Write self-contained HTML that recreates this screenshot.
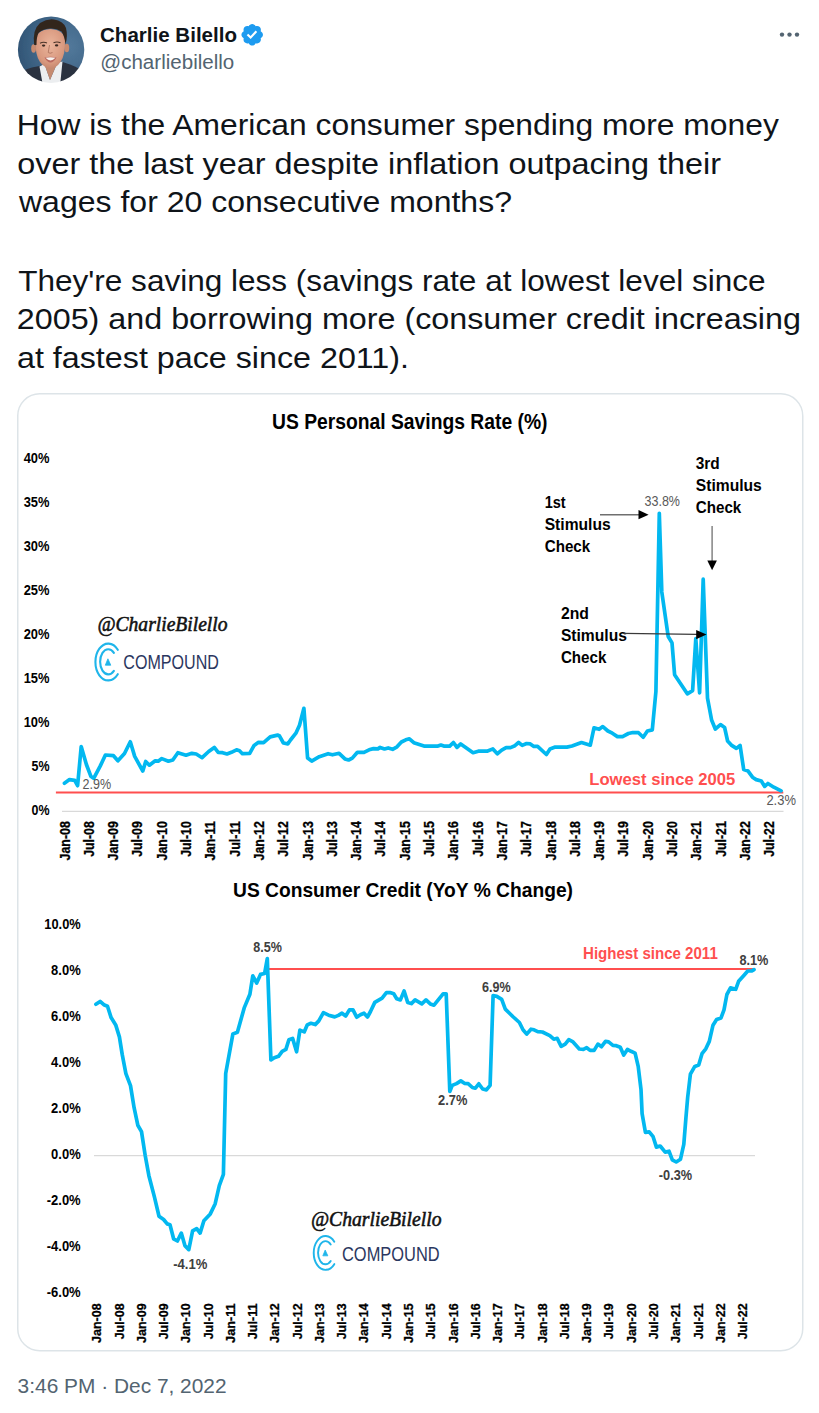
<!DOCTYPE html><html><head><meta charset="utf-8"><style>
html,body{margin:0;padding:0;background:#fff;}
body{width:819px;height:1413px;overflow:hidden;position:relative;font-family:"Liberation Sans",sans-serif;}
svg{position:absolute;left:0;top:0;}
</style></head><body>
<svg width="819" height="1413" viewBox="0 0 819 1413" font-family="Liberation Sans, sans-serif">
<defs>
<clipPath id="av"><circle cx="51.1" cy="49.7" r="33.2"/></clipPath><filter id="bl" x="-5%" y="-5%" width="110%" height="110%"><feGaussianBlur stdDeviation="0.45"/></filter>
<radialGradient id="avbg" cx="0.75" cy="0.45" r="0.8"><stop offset="0" stop-color="#53799b"/><stop offset="0.6" stop-color="#3f6587"/><stop offset="1" stop-color="#2f5272"/></radialGradient>
<radialGradient id="skin" cx="0.5" cy="0.4" r="0.65"><stop offset="0" stop-color="#eab59c"/><stop offset="0.7" stop-color="#d9997f"/><stop offset="1" stop-color="#c0826a"/></radialGradient>
</defs>
<g clip-path="url(#av)"><g filter="url(#bl)">
<rect x="17" y="16" width="68" height="68" fill="url(#avbg)"/>
<path d="M14 86 L16 76 Q22 70 32 67.5 L42 65.5 L47 86 Z" fill="#2a3140"/>
<path d="M88 86 L86 74 Q80 68 70 64.5 L61 61.5 L56 86 Z" fill="#2a3140"/>
<path d="M39.5 66.5 L44.5 64 L50 80 L57.5 62.5 L62.5 61.5 L60 86 L43 86 Z" fill="#eceef0"/>
<path d="M43 58 L44.5 64.5 L50 80 L57.5 62.5 L59 56 Z" fill="#c58a70"/>
<ellipse cx="33.6" cy="48.5" rx="2.4" ry="4.2" fill="#c98b70"/>
<ellipse cx="66.8" cy="48" rx="2.4" ry="4.2" fill="#c98b70"/>
<path d="M35.5 40 Q35 55 40 62 Q45 68.5 50.5 68.5 Q56 68.5 60.5 62 Q65.5 55 65 40 Q64 30 50.5 29 Q36.5 30 35.5 40 Z" fill="url(#skin)"/>
<path d="M34.2 45 Q32 30 40 23 Q47 18.5 54 19.5 Q63 20.5 66 28 Q68 36 65.5 44 Q64.5 36 61.5 31.5 Q56 28 50 28.5 Q42 29 38.5 33 Q36.5 37 36.5 45 Z" fill="#33261f"/>
<path d="M40 43.2 Q43.5 41.5 47 43" stroke="#4a3428" stroke-width="1.1" fill="none"/>
<path d="M53.5 42.8 Q57 41.2 60.5 42.8" stroke="#4a3428" stroke-width="1.1" fill="none"/>
<ellipse cx="43.6" cy="45.6" rx="1.7" ry="1.1" fill="#3b2a24"/>
<ellipse cx="56.6" cy="45.4" rx="1.7" ry="1.1" fill="#3b2a24"/>
<path d="M49.5 45 Q48.5 51 48.2 52.5 Q50 54 52.5 52.5" stroke="#b07560" stroke-width="0.9" fill="none"/>
<path d="M44.5 57.5 Q50.5 55.8 56.5 57.5 Q53.5 62.6 50.5 62.6 Q47.5 62.6 44.5 57.5 Z" fill="#b9685e"/>
<path d="M45.5 57.8 Q50.5 56.6 55.5 57.8 Q53 60.4 50.5 60.4 Q48 60.4 45.5 57.8 Z" fill="#f7f2ee"/>
</g></g>
<text x="100" y="41.8" font-size="19.5" font-weight="bold" fill="#0f1419" textLength="137" lengthAdjust="spacingAndGlyphs">Charlie Bilello</text>
<g transform="translate(239.6,22.1) scale(1.05)"><path fill="#1d9bf0" d="M22.25 12c0-1.43-.88-2.67-2.19-3.34.46-1.39.2-2.9-.81-3.91s-2.52-1.27-3.91-.81c-.66-1.31-1.91-2.19-3.34-2.19s-2.67.88-3.33 2.19c-1.4-.46-2.91-.2-3.92.81s-1.26 2.52-.8 3.91c-1.31.67-2.2 1.91-2.2 3.34s.89 2.67 2.2 3.34c-.46 1.39-.21 2.9.8 3.91s2.52 1.26 3.91.81c.67 1.31 1.91 2.19 3.34 2.19s2.68-.88 3.34-2.19c1.39.45 2.9.2 3.91-.81s1.27-2.52.81-3.91c1.31-.67 2.19-1.91 2.19-3.34zm-11.71 4.2L6.8 12.46l1.41-1.42 2.26 2.26 4.8-5.23 1.47 1.36-6.2 6.77z"/></g>
<text x="100.3" y="69" font-size="20" fill="#536471" textLength="134" lengthAdjust="spacingAndGlyphs">@charliebilello</text>
<circle cx="782.0" cy="34.6" r="2.2" fill="#536471"/>
<circle cx="789.5" cy="34.6" r="2.2" fill="#536471"/>
<circle cx="797.0" cy="34.6" r="2.2" fill="#536471"/>
<text x="16.8" y="134.8" font-size="29.5" fill="#0f1419" textLength="762" lengthAdjust="spacingAndGlyphs">How is the American consumer spending more money</text>
<text x="17.2" y="173.6" font-size="29.5" fill="#0f1419" textLength="703.8" lengthAdjust="spacingAndGlyphs">over the last year despite inflation outpacing their</text>
<text x="19" y="212.4" font-size="29.5" fill="#0f1419" textLength="493" lengthAdjust="spacingAndGlyphs">wages for 20 consecutive months?</text>
<text x="18.2" y="290.6" font-size="29.5" fill="#0f1419" textLength="747.4" lengthAdjust="spacingAndGlyphs">They're saving less (savings rate at lowest level since</text>
<text x="16.8" y="329.2" font-size="29.5" fill="#0f1419" textLength="784.1" lengthAdjust="spacingAndGlyphs">2005) and borrowing more (consumer credit increasing</text>
<text x="17" y="368" font-size="29.5" fill="#0f1419" textLength="392" lengthAdjust="spacingAndGlyphs">at fastest pace since 2011).</text>
<rect x="17.75" y="393.75" width="785" height="957" rx="22" ry="22" fill="#fff" stroke="#dde4e8" stroke-width="1.5"/>
<text x="272" y="429.4" font-size="21.5" font-weight="bold" fill="#000" textLength="275.5" lengthAdjust="spacingAndGlyphs">US Personal Savings Rate (%)</text>
<text x="49.5" y="463.3" font-size="14.5" font-weight="bold" fill="#000" text-anchor="end" textLength="25.8" lengthAdjust="spacingAndGlyphs">40%</text>
<text x="49.5" y="507.2" font-size="14.5" font-weight="bold" fill="#000" text-anchor="end" textLength="25.8" lengthAdjust="spacingAndGlyphs">35%</text>
<text x="49.5" y="551.1" font-size="14.5" font-weight="bold" fill="#000" text-anchor="end" textLength="25.8" lengthAdjust="spacingAndGlyphs">30%</text>
<text x="49.5" y="595.0" font-size="14.5" font-weight="bold" fill="#000" text-anchor="end" textLength="25.8" lengthAdjust="spacingAndGlyphs">25%</text>
<text x="49.5" y="638.9" font-size="14.5" font-weight="bold" fill="#000" text-anchor="end" textLength="25.8" lengthAdjust="spacingAndGlyphs">20%</text>
<text x="49.5" y="682.8" font-size="14.5" font-weight="bold" fill="#000" text-anchor="end" textLength="25.8" lengthAdjust="spacingAndGlyphs">15%</text>
<text x="49.5" y="726.7" font-size="14.5" font-weight="bold" fill="#000" text-anchor="end" textLength="25.8" lengthAdjust="spacingAndGlyphs">10%</text>
<text x="49.5" y="770.6" font-size="14.5" font-weight="bold" fill="#000" text-anchor="end" textLength="18" lengthAdjust="spacingAndGlyphs">5%</text>
<text x="49.5" y="814.5" font-size="14.5" font-weight="bold" fill="#000" text-anchor="end" textLength="18" lengthAdjust="spacingAndGlyphs">0%</text>
<line x1="62" y1="811.4" x2="783.5" y2="811.4" stroke="#d9d9d9" stroke-width="1.3"/>
<text transform="translate(69.5,821.2) rotate(-90)" font-size="14" font-weight="bold" fill="#000" stroke="#000" stroke-width="0.3" text-anchor="end" textLength="39.3" lengthAdjust="spacingAndGlyphs">Jan-08</text>
<text transform="translate(93.8,821.2) rotate(-90)" font-size="14" font-weight="bold" fill="#000" stroke="#000" stroke-width="0.3" text-anchor="end" textLength="35.6" lengthAdjust="spacingAndGlyphs">Jul-08</text>
<text transform="translate(118.1,821.2) rotate(-90)" font-size="14" font-weight="bold" fill="#000" stroke="#000" stroke-width="0.3" text-anchor="end" textLength="39.3" lengthAdjust="spacingAndGlyphs">Jan-09</text>
<text transform="translate(142.4,821.2) rotate(-90)" font-size="14" font-weight="bold" fill="#000" stroke="#000" stroke-width="0.3" text-anchor="end" textLength="35.6" lengthAdjust="spacingAndGlyphs">Jul-09</text>
<text transform="translate(166.7,821.2) rotate(-90)" font-size="14" font-weight="bold" fill="#000" stroke="#000" stroke-width="0.3" text-anchor="end" textLength="39.3" lengthAdjust="spacingAndGlyphs">Jan-10</text>
<text transform="translate(191.0,821.2) rotate(-90)" font-size="14" font-weight="bold" fill="#000" stroke="#000" stroke-width="0.3" text-anchor="end" textLength="35.6" lengthAdjust="spacingAndGlyphs">Jul-10</text>
<text transform="translate(215.3,821.2) rotate(-90)" font-size="14" font-weight="bold" fill="#000" stroke="#000" stroke-width="0.3" text-anchor="end" textLength="39.3" lengthAdjust="spacingAndGlyphs">Jan-11</text>
<text transform="translate(239.6,821.2) rotate(-90)" font-size="14" font-weight="bold" fill="#000" stroke="#000" stroke-width="0.3" text-anchor="end" textLength="35.6" lengthAdjust="spacingAndGlyphs">Jul-11</text>
<text transform="translate(263.9,821.2) rotate(-90)" font-size="14" font-weight="bold" fill="#000" stroke="#000" stroke-width="0.3" text-anchor="end" textLength="39.3" lengthAdjust="spacingAndGlyphs">Jan-12</text>
<text transform="translate(288.2,821.2) rotate(-90)" font-size="14" font-weight="bold" fill="#000" stroke="#000" stroke-width="0.3" text-anchor="end" textLength="35.6" lengthAdjust="spacingAndGlyphs">Jul-12</text>
<text transform="translate(312.5,821.2) rotate(-90)" font-size="14" font-weight="bold" fill="#000" stroke="#000" stroke-width="0.3" text-anchor="end" textLength="39.3" lengthAdjust="spacingAndGlyphs">Jan-13</text>
<text transform="translate(336.8,821.2) rotate(-90)" font-size="14" font-weight="bold" fill="#000" stroke="#000" stroke-width="0.3" text-anchor="end" textLength="35.6" lengthAdjust="spacingAndGlyphs">Jul-13</text>
<text transform="translate(361.1,821.2) rotate(-90)" font-size="14" font-weight="bold" fill="#000" stroke="#000" stroke-width="0.3" text-anchor="end" textLength="39.3" lengthAdjust="spacingAndGlyphs">Jan-14</text>
<text transform="translate(385.4,821.2) rotate(-90)" font-size="14" font-weight="bold" fill="#000" stroke="#000" stroke-width="0.3" text-anchor="end" textLength="35.6" lengthAdjust="spacingAndGlyphs">Jul-14</text>
<text transform="translate(409.7,821.2) rotate(-90)" font-size="14" font-weight="bold" fill="#000" stroke="#000" stroke-width="0.3" text-anchor="end" textLength="39.3" lengthAdjust="spacingAndGlyphs">Jan-15</text>
<text transform="translate(434.0,821.2) rotate(-90)" font-size="14" font-weight="bold" fill="#000" stroke="#000" stroke-width="0.3" text-anchor="end" textLength="35.6" lengthAdjust="spacingAndGlyphs">Jul-15</text>
<text transform="translate(458.3,821.2) rotate(-90)" font-size="14" font-weight="bold" fill="#000" stroke="#000" stroke-width="0.3" text-anchor="end" textLength="39.3" lengthAdjust="spacingAndGlyphs">Jan-16</text>
<text transform="translate(482.6,821.2) rotate(-90)" font-size="14" font-weight="bold" fill="#000" stroke="#000" stroke-width="0.3" text-anchor="end" textLength="35.6" lengthAdjust="spacingAndGlyphs">Jul-16</text>
<text transform="translate(506.9,821.2) rotate(-90)" font-size="14" font-weight="bold" fill="#000" stroke="#000" stroke-width="0.3" text-anchor="end" textLength="39.3" lengthAdjust="spacingAndGlyphs">Jan-17</text>
<text transform="translate(531.2,821.2) rotate(-90)" font-size="14" font-weight="bold" fill="#000" stroke="#000" stroke-width="0.3" text-anchor="end" textLength="35.6" lengthAdjust="spacingAndGlyphs">Jul-17</text>
<text transform="translate(555.5,821.2) rotate(-90)" font-size="14" font-weight="bold" fill="#000" stroke="#000" stroke-width="0.3" text-anchor="end" textLength="39.3" lengthAdjust="spacingAndGlyphs">Jan-18</text>
<text transform="translate(579.8,821.2) rotate(-90)" font-size="14" font-weight="bold" fill="#000" stroke="#000" stroke-width="0.3" text-anchor="end" textLength="35.6" lengthAdjust="spacingAndGlyphs">Jul-18</text>
<text transform="translate(604.1,821.2) rotate(-90)" font-size="14" font-weight="bold" fill="#000" stroke="#000" stroke-width="0.3" text-anchor="end" textLength="39.3" lengthAdjust="spacingAndGlyphs">Jan-19</text>
<text transform="translate(628.4,821.2) rotate(-90)" font-size="14" font-weight="bold" fill="#000" stroke="#000" stroke-width="0.3" text-anchor="end" textLength="35.6" lengthAdjust="spacingAndGlyphs">Jul-19</text>
<text transform="translate(652.7,821.2) rotate(-90)" font-size="14" font-weight="bold" fill="#000" stroke="#000" stroke-width="0.3" text-anchor="end" textLength="39.3" lengthAdjust="spacingAndGlyphs">Jan-20</text>
<text transform="translate(677.0,821.2) rotate(-90)" font-size="14" font-weight="bold" fill="#000" stroke="#000" stroke-width="0.3" text-anchor="end" textLength="35.6" lengthAdjust="spacingAndGlyphs">Jul-20</text>
<text transform="translate(701.3,821.2) rotate(-90)" font-size="14" font-weight="bold" fill="#000" stroke="#000" stroke-width="0.3" text-anchor="end" textLength="39.3" lengthAdjust="spacingAndGlyphs">Jan-21</text>
<text transform="translate(725.6,821.2) rotate(-90)" font-size="14" font-weight="bold" fill="#000" stroke="#000" stroke-width="0.3" text-anchor="end" textLength="35.6" lengthAdjust="spacingAndGlyphs">Jul-21</text>
<text transform="translate(749.9,821.2) rotate(-90)" font-size="14" font-weight="bold" fill="#000" stroke="#000" stroke-width="0.3" text-anchor="end" textLength="39.3" lengthAdjust="spacingAndGlyphs">Jan-22</text>
<text transform="translate(774.2,821.2) rotate(-90)" font-size="14" font-weight="bold" fill="#000" stroke="#000" stroke-width="0.3" text-anchor="end" textLength="35.6" lengthAdjust="spacingAndGlyphs">Jul-22</text>
<line x1="55.9" y1="792.4" x2="783.3" y2="792.4" stroke="#ff4f4f" stroke-width="2"/>
<polyline points="64.4,783.2 69.5,779.6 74.7,780.3 77.6,785.7 81.2,746.6 86.4,764.5 90.8,776.2 93.7,778.4 100.3,765.9 105.4,755.0 113.5,755.7 117.9,760.8 124.5,753.5 130.3,741.8 134.7,756.4 142.8,771.0 145.7,761.5 149.4,765.2 155.2,760.8 158.2,761.2 161.8,758.6 168.4,761.2 172.8,760.0 177.9,752.7 186.0,755.2 191.8,753.3 196.2,754.0 202.1,757.7 208.7,751.5 214.3,747.4 218.2,752.3 222.6,752.7 227.0,754.0 231.4,752.3 236.5,749.8 239.5,750.8 242.4,753.7 249.7,753.3 254.1,745.4 258.5,742.3 263.6,742.7 270.2,736.9 277.6,735.1 279.3,735.7 283.4,743.0 287.8,743.9 290.5,740.0 295.9,733.2 299.5,725.2 303.9,708.3 307.6,758.1 311.7,761.1 319.3,756.7 328.1,753.7 332.5,754.8 339.1,753.3 344.9,758.9 348.6,760.0 352.3,758.1 357.4,752.3 364.0,752.3 369.1,749.8 373.5,748.6 377.9,748.9 380.1,747.4 384.5,749.0 388.2,747.9 392.6,749.3 397.0,746.8 401.4,742.0 405.8,739.8 409.4,738.8 413.8,742.7 424.0,746.1 438.0,746.1 440.9,745.0 443.8,746.1 449.7,746.1 453.4,742.5 457.0,747.4 460.7,743.9 473.1,752.7 478.3,751.2 487.0,751.2 492.9,748.9 497.3,753.7 501.7,750.1 506.1,747.6 510.5,747.6 514.9,745.7 518.6,742.5 522.2,745.4 526.6,743.5 530.3,743.9 533.9,746.4 537.6,746.4 546.4,754.5 550.0,749.0 555.2,747.1 566.9,747.1 572.0,746.0 581.5,742.5 590.3,745.2 594.0,727.8 599.1,729.3 602.8,726.6 607.9,731.0 612.3,733.2 617.4,736.6 622.6,736.6 628.4,733.5 632.8,732.5 638.5,732.7 643.2,737.3 647.4,731.0 652.3,729.9 655.9,691.7 659.3,513.4 661.8,591.9 668.2,636.5 672.0,642.9 674.6,674.7 687.3,693.8 692.6,690.6 695.8,638.6 699.6,692.8 703.2,579.2 707.5,698.1 711.6,720.0 715.3,729.0 720.5,724.6 724.6,727.5 727.6,741.0 731.3,745.1 736.4,748.4 740.1,745.4 743.7,769.6 748.1,771.1 752.5,777.2 756.2,779.6 761.3,781.0 764.7,786.4 767.9,783.5 773.8,787.2 781.1,790.8" fill="none" stroke="#02b8f0" stroke-width="3.7" stroke-linejoin="round" stroke-linecap="round"/>
<text x="589.3" y="784.7" font-size="16" font-weight="bold" fill="#ff4f4f" textLength="146" lengthAdjust="spacingAndGlyphs">Lowest since 2005</text>
<text x="766.4" y="805.2" font-size="13.8" fill="#595959" textLength="29.5" lengthAdjust="spacingAndGlyphs">2.3%</text>
<text x="82.6" y="788.6" font-size="13.8" fill="#595959" textLength="28.6" lengthAdjust="spacingAndGlyphs">2.9%</text>
<text x="644.5" y="505.6" font-size="13.8" fill="#595959" textLength="35.5" lengthAdjust="spacingAndGlyphs">33.8%</text>
<text x="544.7" y="508.2" font-size="16" font-weight="bold" fill="#000" textLength="21" lengthAdjust="spacingAndGlyphs">1st</text><text x="544.7" y="530.2" font-size="16" font-weight="bold" fill="#000" textLength="66" lengthAdjust="spacingAndGlyphs">Stimulus</text><text x="544.7" y="552.2" font-size="16" font-weight="bold" fill="#000" textLength="45.5" lengthAdjust="spacingAndGlyphs">Check</text>
<text x="695.8" y="469.3" font-size="16" font-weight="bold" fill="#000" textLength="24" lengthAdjust="spacingAndGlyphs">3rd</text><text x="695.8" y="491.3" font-size="16" font-weight="bold" fill="#000" textLength="66" lengthAdjust="spacingAndGlyphs">Stimulus</text><text x="695.8" y="513.3" font-size="16" font-weight="bold" fill="#000" textLength="45.5" lengthAdjust="spacingAndGlyphs">Check</text>
<text x="560.9" y="619.4" font-size="16" font-weight="bold" fill="#000" textLength="28" lengthAdjust="spacingAndGlyphs">2nd</text><text x="560.9" y="641.4" font-size="16" font-weight="bold" fill="#000" textLength="66" lengthAdjust="spacingAndGlyphs">Stimulus</text><text x="560.9" y="663.4" font-size="16" font-weight="bold" fill="#000" textLength="45.5" lengthAdjust="spacingAndGlyphs">Check</text>
<line x1="600" y1="514.7" x2="640" y2="514.7" stroke="#6f6f6f" stroke-width="1.4"/><path d="M638.5 510.1 L648.6 514.7 L638.5 519.3 Z" fill="#000"/>
<line x1="712.1" y1="525.9" x2="712.1" y2="562" stroke="#7a7a7a" stroke-width="1.4"/><path d="M707.3 560.6 L712.1 570.2 L716.9 560.6 Z" fill="#000"/>
<line x1="623.5" y1="633.3" x2="697" y2="634.4" stroke="#3a3a3a" stroke-width="1.3"/><path d="M696.2 629.9 L706.5 634.6 L696.2 639.2 Z" fill="#000"/>
<text x="97.5" y="630.6" font-family="Liberation Serif, serif" font-size="20.5" font-style="italic" fill="#111" stroke="#111" stroke-width="0.55" textLength="130" lengthAdjust="spacingAndGlyphs">@CharlieBilello</text>
<g transform="translate(107.9,662.2) scale(1.0)"><path d="M9.9 -12.4 A12.8 18.4 0 1 0 9.9 12.0" fill="none" stroke="#1fb5ea" stroke-width="2.1" stroke-linecap="round"/><path d="M6.0 -9.4 A8.1 12.6 0 1 0 6.0 8.6" fill="none" stroke="#1fb5ea" stroke-width="2.1" stroke-linecap="round"/><path d="M0 -3.4 L2.9 3 L-2.6 3 Z" fill="#1fb5ea" stroke="#1fb5ea" stroke-width="0.8" stroke-linejoin="round"/></g>
<text x="123.3" y="669.2" font-size="21" fill="#2b3760" textLength="95.6" lengthAdjust="spacingAndGlyphs">COMPOUND</text>
<text x="233" y="897" font-size="21" font-weight="bold" fill="#000" textLength="340" lengthAdjust="spacingAndGlyphs">US Consumer Credit (YoY % Change)</text>
<text x="80.7" y="928.5" font-size="15" font-weight="bold" fill="#000" text-anchor="end" textLength="36.4" lengthAdjust="spacingAndGlyphs">10.0%</text>
<text x="80.7" y="974.6" font-size="15" font-weight="bold" fill="#000" text-anchor="end" textLength="29.6" lengthAdjust="spacingAndGlyphs">8.0%</text>
<text x="80.7" y="1020.7" font-size="15" font-weight="bold" fill="#000" text-anchor="end" textLength="29.6" lengthAdjust="spacingAndGlyphs">6.0%</text>
<text x="80.7" y="1066.8" font-size="15" font-weight="bold" fill="#000" text-anchor="end" textLength="29.6" lengthAdjust="spacingAndGlyphs">4.0%</text>
<text x="80.7" y="1112.9" font-size="15" font-weight="bold" fill="#000" text-anchor="end" textLength="29.6" lengthAdjust="spacingAndGlyphs">2.0%</text>
<text x="80.7" y="1159.0" font-size="15" font-weight="bold" fill="#000" text-anchor="end" textLength="29.6" lengthAdjust="spacingAndGlyphs">0.0%</text>
<text x="80.7" y="1205.1" font-size="15" font-weight="bold" fill="#000" text-anchor="end" textLength="34" lengthAdjust="spacingAndGlyphs">-2.0%</text>
<text x="80.7" y="1251.2" font-size="15" font-weight="bold" fill="#000" text-anchor="end" textLength="34" lengthAdjust="spacingAndGlyphs">-4.0%</text>
<text x="80.7" y="1297.3" font-size="15" font-weight="bold" fill="#000" text-anchor="end" textLength="34" lengthAdjust="spacingAndGlyphs">-6.0%</text>
<line x1="94" y1="1155.7" x2="755" y2="1155.7" stroke="#d9d9d9" stroke-width="1.3"/>
<text transform="translate(101.2,1303.4) rotate(-90)" font-size="13.6" font-weight="bold" fill="#000" stroke="#000" stroke-width="0.3" text-anchor="end" textLength="39.5" lengthAdjust="spacingAndGlyphs">Jan-08</text>
<text transform="translate(123.5,1303.4) rotate(-90)" font-size="13.6" font-weight="bold" fill="#000" stroke="#000" stroke-width="0.3" text-anchor="end" textLength="35.9" lengthAdjust="spacingAndGlyphs">Jul-08</text>
<text transform="translate(145.7,1303.4) rotate(-90)" font-size="13.6" font-weight="bold" fill="#000" stroke="#000" stroke-width="0.3" text-anchor="end" textLength="39.5" lengthAdjust="spacingAndGlyphs">Jan-09</text>
<text transform="translate(168.0,1303.4) rotate(-90)" font-size="13.6" font-weight="bold" fill="#000" stroke="#000" stroke-width="0.3" text-anchor="end" textLength="35.9" lengthAdjust="spacingAndGlyphs">Jul-09</text>
<text transform="translate(190.3,1303.4) rotate(-90)" font-size="13.6" font-weight="bold" fill="#000" stroke="#000" stroke-width="0.3" text-anchor="end" textLength="39.5" lengthAdjust="spacingAndGlyphs">Jan-10</text>
<text transform="translate(212.6,1303.4) rotate(-90)" font-size="13.6" font-weight="bold" fill="#000" stroke="#000" stroke-width="0.3" text-anchor="end" textLength="35.9" lengthAdjust="spacingAndGlyphs">Jul-10</text>
<text transform="translate(234.8,1303.4) rotate(-90)" font-size="13.6" font-weight="bold" fill="#000" stroke="#000" stroke-width="0.3" text-anchor="end" textLength="39.5" lengthAdjust="spacingAndGlyphs">Jan-11</text>
<text transform="translate(257.1,1303.4) rotate(-90)" font-size="13.6" font-weight="bold" fill="#000" stroke="#000" stroke-width="0.3" text-anchor="end" textLength="35.9" lengthAdjust="spacingAndGlyphs">Jul-11</text>
<text transform="translate(279.4,1303.4) rotate(-90)" font-size="13.6" font-weight="bold" fill="#000" stroke="#000" stroke-width="0.3" text-anchor="end" textLength="39.5" lengthAdjust="spacingAndGlyphs">Jan-12</text>
<text transform="translate(301.6,1303.4) rotate(-90)" font-size="13.6" font-weight="bold" fill="#000" stroke="#000" stroke-width="0.3" text-anchor="end" textLength="35.9" lengthAdjust="spacingAndGlyphs">Jul-12</text>
<text transform="translate(323.9,1303.4) rotate(-90)" font-size="13.6" font-weight="bold" fill="#000" stroke="#000" stroke-width="0.3" text-anchor="end" textLength="39.5" lengthAdjust="spacingAndGlyphs">Jan-13</text>
<text transform="translate(346.2,1303.4) rotate(-90)" font-size="13.6" font-weight="bold" fill="#000" stroke="#000" stroke-width="0.3" text-anchor="end" textLength="35.9" lengthAdjust="spacingAndGlyphs">Jul-13</text>
<text transform="translate(368.4,1303.4) rotate(-90)" font-size="13.6" font-weight="bold" fill="#000" stroke="#000" stroke-width="0.3" text-anchor="end" textLength="39.5" lengthAdjust="spacingAndGlyphs">Jan-14</text>
<text transform="translate(390.7,1303.4) rotate(-90)" font-size="13.6" font-weight="bold" fill="#000" stroke="#000" stroke-width="0.3" text-anchor="end" textLength="35.9" lengthAdjust="spacingAndGlyphs">Jul-14</text>
<text transform="translate(413.0,1303.4) rotate(-90)" font-size="13.6" font-weight="bold" fill="#000" stroke="#000" stroke-width="0.3" text-anchor="end" textLength="39.5" lengthAdjust="spacingAndGlyphs">Jan-15</text>
<text transform="translate(435.2,1303.4) rotate(-90)" font-size="13.6" font-weight="bold" fill="#000" stroke="#000" stroke-width="0.3" text-anchor="end" textLength="35.9" lengthAdjust="spacingAndGlyphs">Jul-15</text>
<text transform="translate(457.5,1303.4) rotate(-90)" font-size="13.6" font-weight="bold" fill="#000" stroke="#000" stroke-width="0.3" text-anchor="end" textLength="39.5" lengthAdjust="spacingAndGlyphs">Jan-16</text>
<text transform="translate(479.8,1303.4) rotate(-90)" font-size="13.6" font-weight="bold" fill="#000" stroke="#000" stroke-width="0.3" text-anchor="end" textLength="35.9" lengthAdjust="spacingAndGlyphs">Jul-16</text>
<text transform="translate(502.1,1303.4) rotate(-90)" font-size="13.6" font-weight="bold" fill="#000" stroke="#000" stroke-width="0.3" text-anchor="end" textLength="39.5" lengthAdjust="spacingAndGlyphs">Jan-17</text>
<text transform="translate(524.3,1303.4) rotate(-90)" font-size="13.6" font-weight="bold" fill="#000" stroke="#000" stroke-width="0.3" text-anchor="end" textLength="35.9" lengthAdjust="spacingAndGlyphs">Jul-17</text>
<text transform="translate(546.6,1303.4) rotate(-90)" font-size="13.6" font-weight="bold" fill="#000" stroke="#000" stroke-width="0.3" text-anchor="end" textLength="39.5" lengthAdjust="spacingAndGlyphs">Jan-18</text>
<text transform="translate(568.9,1303.4) rotate(-90)" font-size="13.6" font-weight="bold" fill="#000" stroke="#000" stroke-width="0.3" text-anchor="end" textLength="35.9" lengthAdjust="spacingAndGlyphs">Jul-18</text>
<text transform="translate(591.1,1303.4) rotate(-90)" font-size="13.6" font-weight="bold" fill="#000" stroke="#000" stroke-width="0.3" text-anchor="end" textLength="39.5" lengthAdjust="spacingAndGlyphs">Jan-19</text>
<text transform="translate(613.4,1303.4) rotate(-90)" font-size="13.6" font-weight="bold" fill="#000" stroke="#000" stroke-width="0.3" text-anchor="end" textLength="35.9" lengthAdjust="spacingAndGlyphs">Jul-19</text>
<text transform="translate(635.7,1303.4) rotate(-90)" font-size="13.6" font-weight="bold" fill="#000" stroke="#000" stroke-width="0.3" text-anchor="end" textLength="39.5" lengthAdjust="spacingAndGlyphs">Jan-20</text>
<text transform="translate(658.0,1303.4) rotate(-90)" font-size="13.6" font-weight="bold" fill="#000" stroke="#000" stroke-width="0.3" text-anchor="end" textLength="35.9" lengthAdjust="spacingAndGlyphs">Jul-20</text>
<text transform="translate(680.2,1303.4) rotate(-90)" font-size="13.6" font-weight="bold" fill="#000" stroke="#000" stroke-width="0.3" text-anchor="end" textLength="39.5" lengthAdjust="spacingAndGlyphs">Jan-21</text>
<text transform="translate(702.5,1303.4) rotate(-90)" font-size="13.6" font-weight="bold" fill="#000" stroke="#000" stroke-width="0.3" text-anchor="end" textLength="35.9" lengthAdjust="spacingAndGlyphs">Jul-21</text>
<text transform="translate(724.8,1303.4) rotate(-90)" font-size="13.6" font-weight="bold" fill="#000" stroke="#000" stroke-width="0.3" text-anchor="end" textLength="39.5" lengthAdjust="spacingAndGlyphs">Jan-22</text>
<text transform="translate(747.0,1303.4) rotate(-90)" font-size="13.6" font-weight="bold" fill="#000" stroke="#000" stroke-width="0.3" text-anchor="end" textLength="35.9" lengthAdjust="spacingAndGlyphs">Jul-22</text>
<line x1="266" y1="969" x2="755" y2="969" stroke="#ff4f4f" stroke-width="2"/>
<polyline points="95.9,1004.3 100.1,1001.4 103.8,1004.7 107.5,1006.2 111.1,1017.6 115.7,1024.9 119.4,1036.9 122.2,1054.4 125.9,1073.7 130.5,1085.6 134.1,1107.7 137.8,1125.2 141.5,1131.6 145.2,1155.5 148.9,1175.7 154.4,1196.9 159.0,1216.2 163.6,1219.5 167.2,1223.9 170.0,1224.7 173.6,1238.8 177.4,1241.0 181.3,1233.1 184.9,1245.6 188.8,1249.6 192.6,1230.9 196.7,1228.6 200.1,1233.1 203.9,1220.7 210.3,1213.9 215.2,1203.7 219.3,1185.6 223.4,1174.3 225.7,1073.5 232.9,1033.9 237.4,1032.3 244.2,1007.9 249.9,994.3 252.8,975.8 256.7,983.0 260.5,974.4 264.6,973.5 267.3,958.6 270.9,1060.0 274.3,1057.8 278.5,1056.3 282.2,1051.4 285.9,1049.4 288.9,1039.8 292.6,1038.4 296.6,1051.8 299.9,1030.1 304.2,1031.9 307.2,1024.9 310.9,1023.3 315.2,1024.6 318.8,1020.9 323.4,1012.7 328.6,1015.2 334.7,1016.9 338.4,1015.4 342.0,1013.2 345.7,1016.0 349.4,1009.9 353.0,1009.9 356.7,1017.2 360.4,1014.8 364.0,1013.2 367.5,1017.0 370.5,1011.5 374.8,1002.4 382.1,998.1 386.4,992.6 390.0,992.6 393.7,993.8 396.7,998.7 400.4,999.9 404.1,991.0 407.7,1002.4 411.4,1003.6 415.1,999.9 421.8,1003.9 426.0,999.9 430.3,1003.9 434.0,1005.2 443.1,993.8 446.2,993.8 449.8,1091.5 452.2,1085.4 456.5,1083.6 460.8,1080.9 464.4,1083.3 468.1,1083.6 472.4,1087.5 475.4,1088.2 478.8,1083.8 482.7,1089.0 486.4,1089.9 490.1,1085.4 493.1,995.6 496.8,996.3 501.7,999.3 505.3,1009.1 513.3,1017.0 519.4,1022.5 523.0,1029.8 526.7,1034.1 531.0,1029.2 534.0,1029.8 537.7,1031.6 542.4,1032.0 549.8,1035.6 553.8,1039.2 557.2,1038.3 561.2,1046.3 565.2,1044.1 568.8,1039.6 572.6,1041.6 579.3,1049.0 583.4,1049.3 586.7,1047.7 590.1,1050.4 594.1,1050.4 597.9,1044.1 601.5,1046.7 605.5,1041.4 608.6,1041.9 612.9,1045.4 616.3,1045.7 620.3,1047.3 623.7,1055.1 627.4,1049.4 631.0,1051.3 635.1,1053.1 638.2,1066.4 641.0,1089.5 642.1,1113.6 645.4,1132.3 649.2,1131.8 653.1,1136.7 656.4,1147.1 660.2,1146.0 665.2,1152.1 669.0,1151.2 672.3,1159.8 676.2,1162.0 680.5,1159.2 683.8,1144.4 686.0,1116.9 687.7,1097.1 690.4,1074.1 694.8,1066.4 698.7,1065.1 702.0,1053.7 705.8,1048.8 709.3,1041.4 713.0,1025.2 716.6,1019.4 721.0,1017.9 724.0,1009.9 726.9,994.5 730.5,987.9 735.7,989.3 738.6,981.3 744.5,974.7 747.7,971.0 751.8,971.0 754.0,969.6" fill="none" stroke="#02b8f0" stroke-width="3.7" stroke-linejoin="round" stroke-linecap="round"/>
<text x="583" y="959" font-size="16.3" font-weight="bold" fill="#ff4f4f" textLength="134.8" lengthAdjust="spacingAndGlyphs">Highest since 2011</text>
<text x="253.2" y="952.3" font-size="14.2" font-weight="bold" fill="#404040" textLength="28.6" lengthAdjust="spacingAndGlyphs">8.5%</text>
<text x="739.4" y="964.5" font-size="14.2" font-weight="bold" fill="#404040" textLength="29" lengthAdjust="spacingAndGlyphs">8.1%</text>
<text x="482.1" y="991.9" font-size="14.2" font-weight="bold" fill="#404040" textLength="28.7" lengthAdjust="spacingAndGlyphs">6.9%</text>
<text x="438.1" y="1104.9" font-size="14.2" font-weight="bold" fill="#404040" textLength="29.3" lengthAdjust="spacingAndGlyphs">2.7%</text>
<text x="658.8" y="1179.5" font-size="14.2" font-weight="bold" fill="#404040" textLength="33.3" lengthAdjust="spacingAndGlyphs">-0.3%</text>
<text x="173.2" y="1269" font-size="14.2" font-weight="bold" fill="#404040" textLength="34.1" lengthAdjust="spacingAndGlyphs">-4.1%</text>
<text x="311" y="1225.8" font-family="Liberation Serif, serif" font-size="20.5" font-style="italic" fill="#111" stroke="#111" stroke-width="0.55" textLength="130.5" lengthAdjust="spacingAndGlyphs">@CharlieBilello</text>
<g transform="translate(325.2,1253.1) scale(0.92)"><path d="M9.9 -12.4 A12.8 18.4 0 1 0 9.9 12.0" fill="none" stroke="#1fb5ea" stroke-width="2.1" stroke-linecap="round"/><path d="M6.0 -9.4 A8.1 12.6 0 1 0 6.0 8.6" fill="none" stroke="#1fb5ea" stroke-width="2.1" stroke-linecap="round"/><path d="M0 -3.4 L2.9 3 L-2.6 3 Z" fill="#1fb5ea" stroke="#1fb5ea" stroke-width="0.8" stroke-linejoin="round"/></g>
<text x="342" y="1260.6" font-size="21" fill="#2b3760" textLength="97.6" lengthAdjust="spacingAndGlyphs">COMPOUND</text>
<text x="17.6" y="1392.6" font-size="20" fill="#536471" textLength="209" lengthAdjust="spacingAndGlyphs">3:46 PM · Dec 7, 2022</text>
</svg></body></html>
